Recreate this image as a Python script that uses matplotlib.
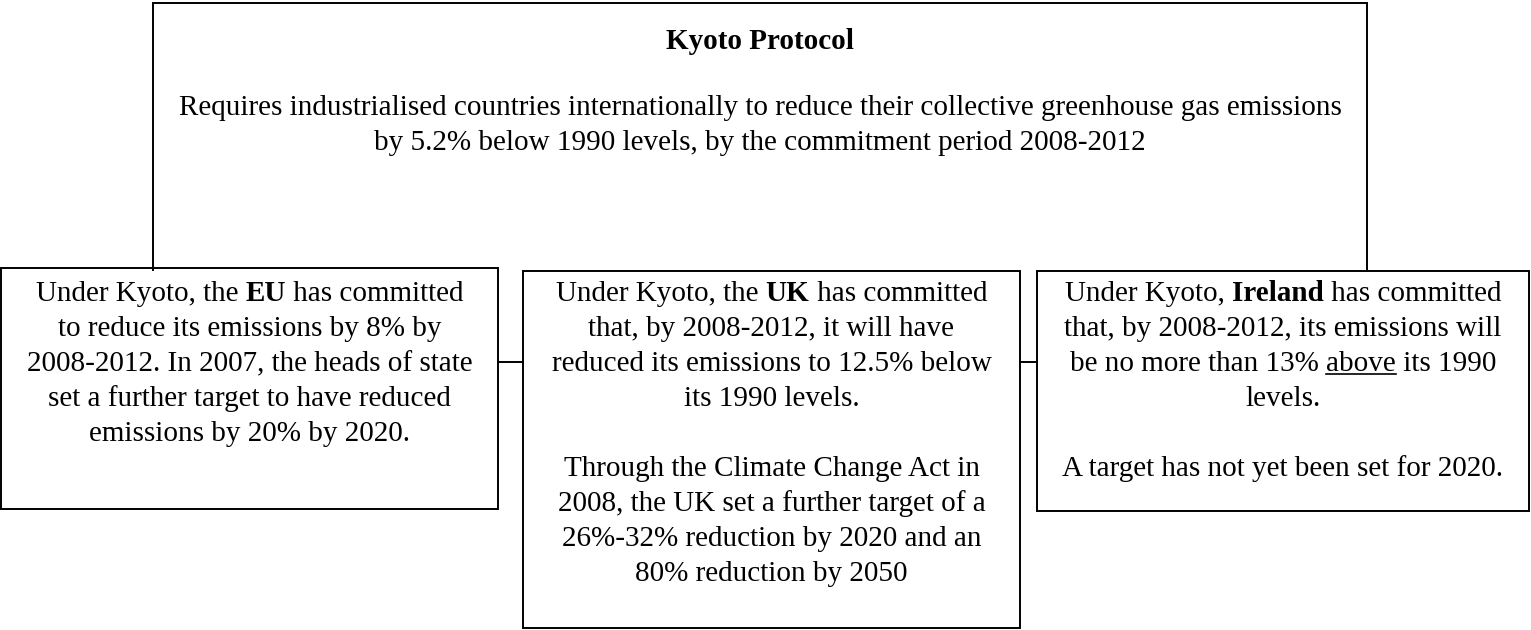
import matplotlib
matplotlib.use("Agg")
import matplotlib.pyplot as plt
from matplotlib.patches import Rectangle

# Box texts: each line is a list of (text, style) runs; style n=normal, b=bold, u=underline
title_lines = [
    [("Kyoto Protocol", "b")],
]
top_lines = [
    [("Requires industrialised countries internationally to reduce their collective greenhouse gas emissions", "n")],
    [("by 5.2% below 1990 levels, by the commitment period 2008-2012", "n")],
]
eu_lines = [
    [("Under Kyoto, the ", "n"), ("EU", "b"), (" has committed", "n")],
    [("to reduce its emissions by 8% by", "n")],
    [("2008-2012. In 2007, the heads of state", "n")],
    [("set a further target to have reduced", "n")],
    [("emissions by 20% by 2020.", "n")],
]
uk_lines = [
    [("Under Kyoto, the ", "n"), ("UK", "b"), (" has committed", "n")],
    [("that, by 2008-2012, it will have", "n")],
    [("reduced its emissions to 12.5% below", "n")],
    [("its 1990 levels.", "n")],
    [],
    [("Through the Climate Change Act in", "n")],
    [("2008, the UK set a further target of a", "n")],
    [("26%-32% reduction by 2020 and an", "n")],
    [("80% reduction by 2050", "n")],
]
ie_lines = [
    [("Under Kyoto, ", "n"), ("Ireland", "b"), (" has committed", "n")],
    [("that, by 2008-2012, its emissions will", "n")],
    [("be no more than 13% ", "n"), ("above", "u"), (" its 1990", "n")],
    [("levels.", "n")],
    [],
    [("A target has not yet been set for 2020.", "n")],
]

W, H = 1531, 630
FONT = "Liberation Serif"
FS = 21
LINE_H = 35
LW = 1.4

fig = plt.figure(figsize=(W / 100, H / 100), dpi=100)
ax = fig.add_axes([0, 0, 1, 1])
ax.set_xlim(0, W)
ax.set_ylim(H, 0)
ax.axis("off")
renderer = fig.canvas.get_renderer()


def draw_lines(lines, cx, y0):
    for i, runs in enumerate(lines):
        y = y0 + i * LINE_H
        if not runs:
            continue
        texts = []
        widths = []
        for s, style in runs:
            t = ax.text(0, y, s, fontsize=FS, family=FONT,
                        fontweight="bold" if style == "b" else "normal",
                        ha="left", va="baseline", color="black")
            w = t.get_window_extent(renderer=renderer).width
            texts.append(t)
            widths.append(w)
        x = cx - sum(widths) / 2
        for t, w, (s, style) in zip(texts, widths, runs):
            t.set_x(x)
            if style == "u":
                ax.plot([x, x + w], [y + 3, y + 3], color="black", lw=1.2)
            x += w


def box(x0, y0, x1, y1):
    ax.add_patch(Rectangle((x0, y0), x1 - x0, y1 - y0, fill=False,
                           edgecolor="black", lw=LW))


# top bracket (open at the bottom)
ax.plot([153, 153, 1367, 1367], [270, 3, 3, 270], color="black", lw=LW,
        solid_joinstyle="miter")

box(1, 268, 498, 509)
box(523, 271, 1020, 628)
box(1037, 271, 1529, 511)

ax.plot([498, 523], [362, 362], color="black", lw=LW)
ax.plot([1020, 1037], [362, 362], color="black", lw=LW)

draw_lines(title_lines, 760, 49)
draw_lines(top_lines, 760, 115)
draw_lines(eu_lines, 249.5, 301)
draw_lines(uk_lines, 771.5, 301)
draw_lines(ie_lines, 1283, 301)

fig.savefig("out.png", dpi=100)
